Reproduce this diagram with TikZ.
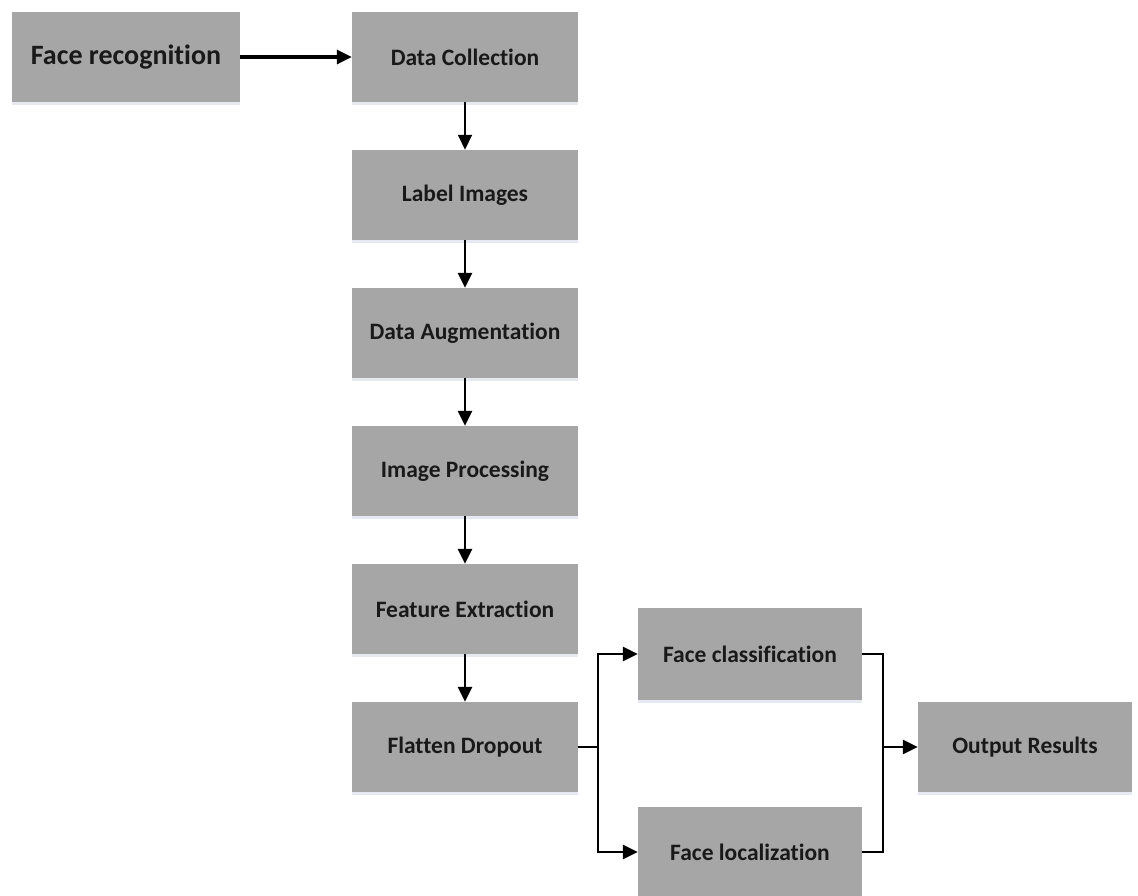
\documentclass[tikz,border=0pt]{standalone}
\usepackage{fontspec}
\setmainfont[Ligatures=NoCommon]{Carlito}
\usetikzlibrary{arrows.meta,shadows}
\begin{document}
\begin{tikzpicture}[x=1pt,y=-1pt,
  block/.style={fill=boxgray, draw=none, minimum width=226pt, minimum height=90pt,
    inner sep=0pt, font=\fontsize{23.5}{27}\selectfont\bfseries, text=black!90,
    drop shadow={shadow xshift=0pt, shadow yshift=-2.5pt, fill=shadowblue, opacity=0.6}},
  flow/.style={line width=2.6pt, -{Triangle[width=14pt,length=15pt]}},
  plain/.style={line width=2.6pt}]
\definecolor{boxgray}{HTML}{A6A6A6}
\definecolor{shadowblue}{HTML}{D6DDE6}
\useasboundingbox (0,0) rectangle (1138,895);
\fill[white] (0,0) rectangle (1138,895);
\clip (0,0) rectangle (1138,895);

% main column
\node[block, minimum width=228pt, font=\fontsize{28}{32}\selectfont\bfseries] (fr) at (126,57) {Face recognition};
\node[block] (dc) at (465,57) {Data Collection};
\node[block] (li) at (465,195) {Label Images};
\node[block] (da) at (465,333) {Data Augmentation};
\node[block] (ip) at (465,471) {Image Processing};
\node[block] (fe) at (465,609) {Feature Extraction};
\node[block] (fd) at (465,747) {Flatten Dropout};

% branches
\node[block, minimum width=224pt, minimum height=92pt] (fc) at (750,654) {Face classification};
\node[block, minimum width=224pt] (fl) at (750,852) {Face localization};
\node[block, minimum width=214pt] (out) at (1025,747) {Output Results};

\coordinate (split) at (598,747);
\coordinate (join) at (883,747);

% connectors
\draw[flow, line width=3.2pt] (fr) -- (dc);
\draw[flow, line width=1.6pt] (dc) -- (li);
\draw[flow] (li) -- (da);
\draw[flow] (da) -- (ip);
\draw[flow] (ip) -- (fe);
\draw[flow] (fe) -- (fd);
\draw[plain] (fd.east) -- (split);
\draw[flow] (split) |- (fc.west);
\draw[flow] (split) |- (fl.west);
\draw[plain] (fc.east) -| (join);
\draw[plain] (fl.east) -| (join);
\draw[flow] (join) -- (out.west);
\end{tikzpicture}
\end{document}
